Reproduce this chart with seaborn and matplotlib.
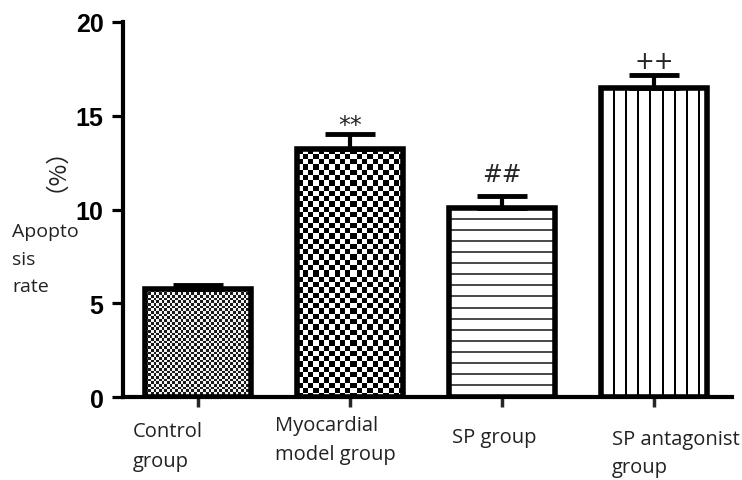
import numpy as np
import pandas as pd
import matplotlib
matplotlib.use("Agg")
import matplotlib.pyplot as plt
import seaborn as sns

# Apoptosis rate (%) per group, with upper SD and significance marks
groups = ["Control\ngroup", "Myocardial\nmodel group", "SP group", "SP antagonist\ngroup"]
rates = [5.75, 13.25, 10.1, 16.5]
sd = [0.2, 0.8, 0.6, 0.65]
marks = ["", "**", "##", "++"]
yticks = [0, 5, 10, 15, 20]

sns.set_theme(style="white")
plt.rcParams["font.family"] = ["Liberation Sans", "DejaVu Sans"]

W, H, DPI = 742, 481, 100
fig = plt.figure(figsize=(W / DPI, H / DPI), dpi=DPI)
AX_L, AX_R, AX_T, AX_B = 123, 732, 23, 398
ax = fig.add_axes([AX_L / W, 1 - AX_B / H, (AX_R - AX_L) / W, (AX_B - AX_T) / H])

df = pd.DataFrame({"group": groups, "rate": rates})
sns.barplot(data=df, x="group", y="rate", ax=ax, width=0.70,
            color="white", edgecolor="black", linewidth=4,
            errorbar=None, saturation=1)

XLIM = (-0.493, 3.513)
ax.set_ylim(0, 20)
ax.set_xlim(*XLIM)
fig.canvas.draw()

# textured fills drawn as images clipped to each bar
styles = ["fine_check", "check", "hstripe", "vstripe"]
for patch, style in zip(ax.patches, styles):
    x0, y0 = patch.get_x(), patch.get_y()
    w, h = patch.get_width(), patch.get_height()
    (px0, py0), (px1, py1) = ax.transData.transform([(x0, y0), (x0 + w, y0 + h)])
    nw, nh = int(round(px1 - px0)), int(round(py1 - py0))
    jj, ii = np.meshgrid(np.arange(nw), np.arange(nh))
    if style == "fine_check":
        c = 2.7
        arr = ((np.floor(ii / c) + np.floor(jj / c)) % 2) * 0.85 + 0.1
    elif style == "check":
        c = 5.3
        arr = ((np.floor(ii / c) + np.floor(jj / c)) % 2).astype(float)
    elif style == "hstripe":
        arr = np.where((ii % 11) < 2, 0.3, 1.0)
    else:
        arr = np.where((jj % 12) < 2, 0.0, 1.0)
    im = ax.imshow(arr, extent=(x0, x0 + w, y0, y0 + h), cmap="gray",
                   vmin=0, vmax=1, interpolation="nearest", aspect="auto",
                   zorder=1.5)
    im.set_clip_path(patch)
    patch.set_facecolor("none")
    patch.set_zorder(2)

ax.set_ylim(0, 20)
ax.set_xlim(*XLIM)

xs = np.arange(len(groups))
ax.errorbar(xs, rates, yerr=[np.zeros(len(sd)), sd], fmt="none",
            ecolor="black", elinewidth=3, capsize=18, capthick=3.5, zorder=3)

# significance marks above the caps (baseline offsets in points)
mark_offsets = [0, 1.0, 11.0, 5.0]
for x, r, s, m, off in zip(xs, rates, sd, marks, mark_offsets):
    if m:
        ax.annotate(m, (x, r + s), xytext=(0, off), textcoords="offset points",
                    ha="center", va="baseline", fontsize=17,
                    family=["DejaVu Sans"], zorder=4)

# axes styling
for side in ["top", "right"]:
    ax.spines[side].set_visible(False)
for side in ["left", "bottom"]:
    ax.spines[side].set_linewidth(3)
    ax.spines[side].set_color("black")

ax.set_yticks(yticks)
ax.set_yticklabels([str(t) for t in yticks], fontsize=18, fontweight="bold")
ax.tick_params(axis="y", direction="out", length=8, width=2.3, pad=6,
               left=True, colors="black")
ax.set_xticks(xs)
ax.set_xticklabels([""] * len(xs))
ax.tick_params(axis="x", direction="out", length=7, width=2.5, bottom=True)
ax.set_xlabel("")
ax.set_ylabel("")

label_font = ["Open Sans", "DejaVu Sans"]


def put(px, py, s, **kw):
    fig.text(px / W, 1 - py / H, s, **kw)


# y-axis title pieces
for line, base in zip("Apopto\nsis\nrate".split("\n"), [237, 265, 292]):
    put(12, base, line, ha="left", va="baseline", fontsize=14,
        family=label_font, color="#222222")
put(44, 158, "（%）", ha="center", va="center", rotation=90, fontsize=17,
    family=["Noto Sans CJK SC", "DejaVu Sans"], color="#222222")

# category labels under the axis (left edge, first baseline, line step)
label_pos = [(133, 437, 30), (275, 431, 29), (452, 443, 29), (612, 445, 28)]
for (lx, ly, step), g in zip(label_pos, groups):
    for k, line in enumerate(g.split("\n")):
        put(lx, ly + k * step, line, ha="left", va="baseline", fontsize=14.5,
            family=label_font, color="#222222")

fig.savefig("out.png", dpi=DPI)
